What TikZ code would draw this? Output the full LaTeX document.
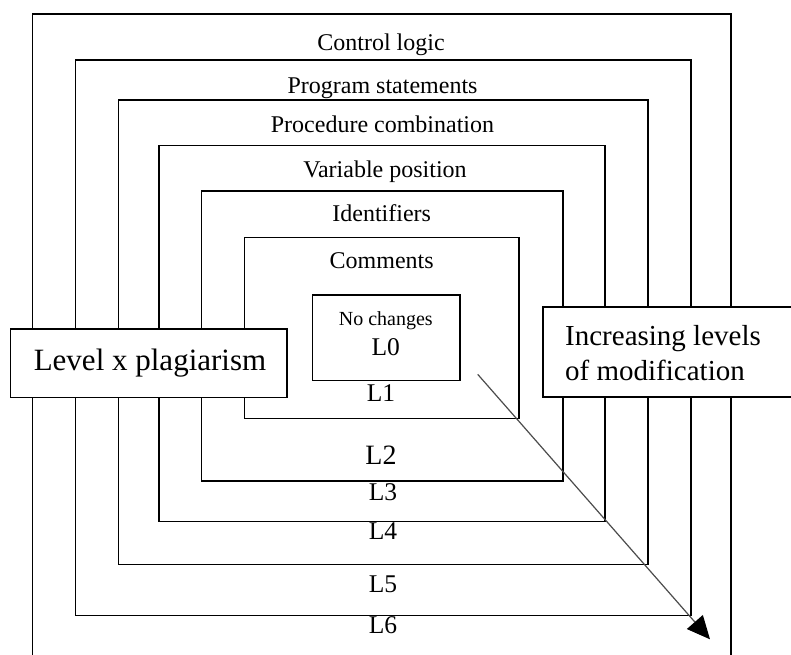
\documentclass[tikz,border=0pt]{standalone}
\usepackage{fontspec}
\setmainfont{Liberation Serif}
\usetikzlibrary{arrows.meta}
\tikzset{
  ring/.style={draw=black, line width=1.6bp, rectangle, inner sep=0pt},
  sidebox/.style={draw=black, fill=white, line width=1.6bp, rectangle, inner sep=0pt},
  lbl/.style={anchor=base, inner sep=0pt, font=\fontsize{24bp}{28bp}\selectfont},
  lev/.style={anchor=base, inner sep=0pt, font=\fontsize{25.5bp}{28bp}\selectfont},
  arr/.style={draw=black!70, line width=1.2bp, -{Triangle[length=23bp,width=21bp,color=black]}},
}
\newcommand{\boxat}[5]{\node[ring, minimum width={(#4-#2)*1bp}, minimum height={(#5-#3)*1bp}] (#1) at ({(#2+#4)/2},{(#3+#5)/2}) {};}
\begin{document}
\begin{tikzpicture}[x=1bp,y=-1bp]
\useasboundingbox (0,0) rectangle (791,655);
\clip (0,0) rectangle (791,655);
\fill[white] (0,0) rectangle (791,655);
% nested rings
\boxat{r7}{32.3}{14.3}{730.7}{690}
\boxat{r6}{75.3}{60}{691}{615.3}
\boxat{r5}{118.3}{100}{647.7}{564.3}
\boxat{r4}{158.7}{145.3}{605}{521.3}
\boxat{r3}{201.3}{190.7}{562.7}{481}
\boxat{r2}{244.3}{237.3}{519}{418.3}
\boxat{r0}{312.3}{295}{460}{380.3}
% side boxes
\node[sidebox, minimum width=276bp, minimum height=68.3bp] (lb) at (148.7,363.2) {};
\node[sidebox, minimum width=260bp, minimum height=90bp, anchor=west] (rb) at (542.3,352) {};
% ring titles
\node[lbl] (t7) at (381,50.5) {Control logic};
\node[lbl] (t6) at (382.5,94) {Program statements};
\node[lbl] (t5) at (382.5,132.7) {Procedure combination};
\node[lbl] (t4) at (385,177.7) {Variable position};
\node[lbl] (t3) at (381.7,221) {Identifiers};
\node[lbl] (t2) at (381.7,268.3) {Comments};
\node[anchor=base, inner sep=0pt, font=\fontsize{20bp}{22bp}\selectfont] (t0) at (385.8,325) {No changes};
% level labels
\node[lev] (l0) at (385.8,355) {L0};
\node[lev] (l1) at (381,401.7) {L1};
\node[anchor=base, inner sep=0pt, font=\fontsize{28bp}{30bp}\selectfont] (l2) at (381,464.3) {L2};
\node[lev] (l3) at (383,500) {L3};
\node[lev] (l4) at (383,539) {L4};
\node[lev] (l5) at (383,592.7) {L5};
\node[lev] (l6) at (383,633.3) {L6};
% side texts
\node[anchor=base, inner sep=0pt, font=\fontsize{31bp}{34bp}\selectfont] (lt) at (150,370.7) {Level x plagiarism};
\node[anchor=base west, inner sep=0pt, font=\fontsize{29bp}{32bp}\selectfont] (rt1) at (565,345) {Increasing levels};
\node[anchor=base west, inner sep=0pt, font=\fontsize{29bp}{32bp}\selectfont] (rt2) at (565,380) {of modification};
% arrow
\coordinate (as) at (477.7,374.3);
\coordinate (ae) at (710,639.3);
\draw[arr] (as) -- (ae);
\end{tikzpicture}
\end{document}
